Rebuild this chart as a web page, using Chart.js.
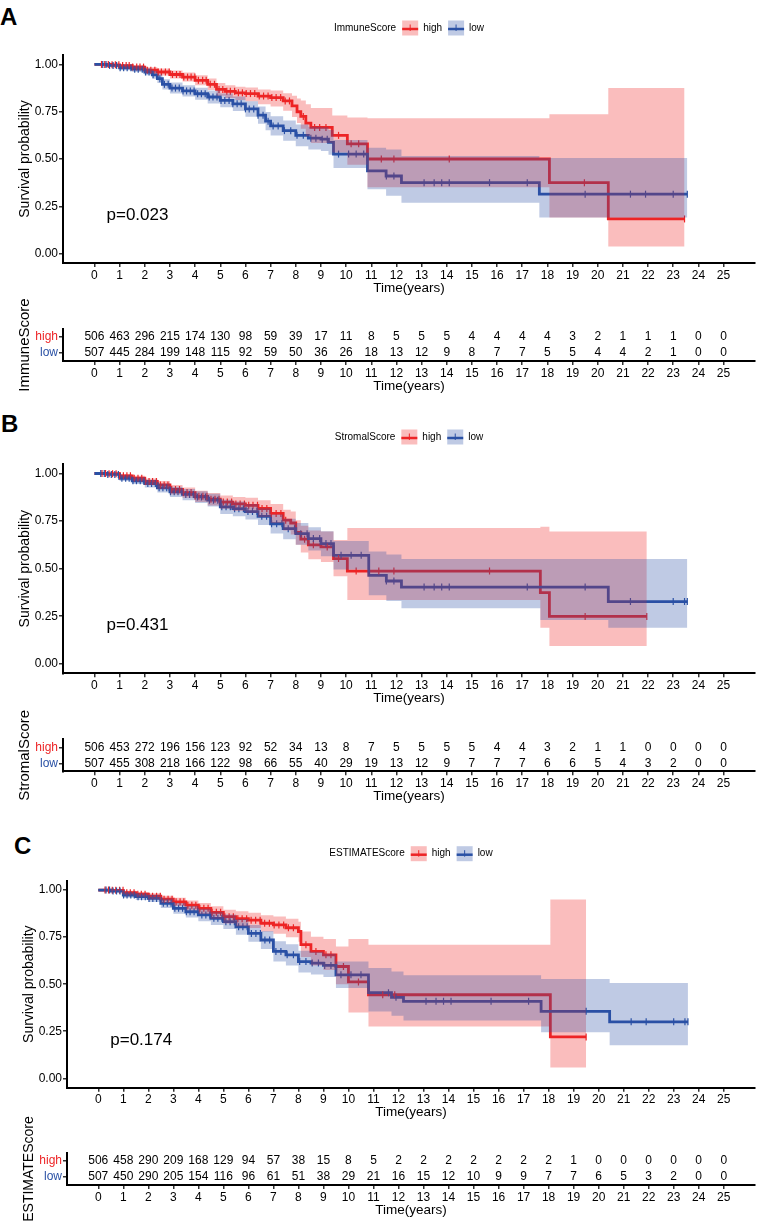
<!DOCTYPE html>
<html>
<head>
<meta charset="utf-8">
<script src="https://cdn.jsdelivr.net/npm/chart.js@4.4.1/dist/chart.umd.min.js"></script>
<style>
  body { margin: 0; background: #fff; }
  #wrap { position: relative; width: 762px; height: 1224px; overflow: hidden; font-family: "Liberation Sans", Arial, sans-serif; }
  canvas { position: absolute; left: 0; }
  .tag { position: absolute; font-weight: bold; font-size: 24px; line-height: 24px; color: #000; }
</style>
</head>
<body>
<div id="wrap">
  <div class="tag" style="left:0;top:5px">A</div>
  <div class="tag" style="left:1px;top:412px">B</div>
  <div class="tag" style="left:14px;top:834px">C</div>
  <canvas id="kmA" width="762" height="300" style="top:0"></canvas>
  <canvas id="rtA" width="762" height="110" style="top:290px"></canvas>
  <canvas id="kmB" width="762" height="310" style="top:400px"></canvas>
  <canvas id="rtB" width="762" height="110" style="top:700px"></canvas>
  <canvas id="kmC" width="762" height="315" style="top:810px"></canvas>
  <canvas id="rtC" width="762" height="129" style="top:1095px"></canvas>
</div>
<script>
const FONT = '"Liberation Sans", Arial, sans-serif';
Chart.defaults.font.family = FONT;
Chart.defaults.color = '#000';

// axes
const xTicks = [0,1,2,3,4,5,6,7,8,9,10,11,12,13,14,15,16,17,18,19,20,21,22,23,24,25];
const yTicks = [0, 0.25, 0.5, 0.75, 1];
const yTickLabels = ['0.00', '0.25', '0.50', '0.75', '1.00'];
const groups = ['high', 'low'];

const RED = 'rgb(237,36,38)', BLUE = 'rgb(42,81,165)';
const RED_FILL = 'rgba(237,36,38,0.3)', BLUE_FILL = 'rgba(42,81,165,0.3)';

// ---- panel A: ImmuneScore
const timeA_high = [0, 0.7, 1.0, 1.5, 2.0, 2.5, 3.0, 3.5, 4.0, 4.5, 4.85, 5.2, 5.6, 6.0, 6.5, 7.0, 7.5, 7.85, 8.05, 8.2, 8.4, 8.6, 9.45, 10.05, 10.85, 18.08, 20.42, 23.45];
const survA_high = [1.0, 0.998, 0.994, 0.986, 0.97, 0.96, 0.947, 0.933, 0.916, 0.895, 0.868, 0.858, 0.85, 0.846, 0.833, 0.825, 0.807, 0.781, 0.75, 0.725, 0.69, 0.667, 0.625, 0.58, 0.5, 0.375, 0.183, 0.183];
const loA_high = [1.0, 0.992, 0.985, 0.975, 0.955, 0.942, 0.926, 0.91, 0.89, 0.865, 0.835, 0.823, 0.812, 0.806, 0.79, 0.778, 0.755, 0.722, 0.69, 0.66, 0.62, 0.585, 0.535, 0.47, 0.35, 0.19, 0.037, 0.037];
const upA_high = [1.0, 1.0, 1.0, 0.997, 0.985, 0.978, 0.968, 0.957, 0.943, 0.926, 0.902, 0.89, 0.882, 0.878, 0.868, 0.862, 0.848, 0.835, 0.82, 0.81, 0.79, 0.77, 0.73, 0.72, 0.716, 0.737, 0.875, 0.875];
const censA_high = [0.28,0.41,0.55,0.7,0.83,0.97,1.12,1.26,1.38,1.52,1.68,1.81,1.95,2.1,2.24,2.4,2.53,2.66,2.82,2.97,3.1,3.26,3.4,3.55,3.7,3.84,3.99,4.13,4.3,4.44,4.6,4.77,4.95,5.1,5.26,5.4,5.57,5.72,5.88,6.03,6.2,6.37,6.55,6.72,6.9,7.05,7.22,7.4,7.58,7.75,8.3,8.75,8.95,9.2,9.7,10.2,10.5,11.4,11.9,14.1,19.47,23.45];

const timeA_low = [0, 0.5, 1.0, 1.5, 2.0, 2.3, 2.5, 2.7, 3.0, 3.5, 4.0, 4.5, 5.0, 5.5, 6.0, 6.5, 6.8, 7.0, 7.5, 8.0, 8.5, 9.0, 9.3, 9.5, 10.85, 11.59, 12.2, 17.68, 23.56];
const survA_low = [1.0, 0.995, 0.982, 0.975, 0.96, 0.945, 0.925, 0.895, 0.875, 0.86, 0.845, 0.828, 0.81, 0.792, 0.765, 0.732, 0.7, 0.675, 0.65, 0.625, 0.61, 0.605, 0.588, 0.526, 0.437, 0.41, 0.375, 0.314, 0.314];
const loA_low = [1.0, 0.988, 0.97, 0.96, 0.943, 0.925, 0.902, 0.868, 0.846, 0.83, 0.813, 0.794, 0.774, 0.754, 0.724, 0.687, 0.652, 0.624, 0.596, 0.568, 0.55, 0.542, 0.522, 0.452, 0.34, 0.305, 0.268, 0.19, 0.19];
const upA_low = [1.0, 1.0, 0.994, 0.99, 0.977, 0.965, 0.948, 0.922, 0.904, 0.89, 0.877, 0.862, 0.846, 0.83, 0.806, 0.777, 0.748, 0.726, 0.704, 0.682, 0.67, 0.668, 0.654, 0.6, 0.56, 0.55, 0.516, 0.505, 0.505];
const censA_low = [0.33,0.46,0.6,0.74,0.88,1.02,1.16,1.3,1.45,1.6,1.74,1.9,2.03,2.17,2.33,2.6,2.78,2.93,3.08,3.22,3.37,3.52,3.66,3.81,3.96,4.1,4.25,4.4,4.56,4.71,4.87,5.03,5.18,5.35,5.5,5.67,5.83,6.0,6.15,6.33,6.5,6.7,6.9,7.1,7.3,7.55,7.8,8.05,8.3,8.6,8.8,9.05,9.25,9.7,10.1,10.4,10.7,11.6,11.9,13.1,13.5,13.8,14.1,15.7,17.2,19.5,21.3,21.9,23.0,23.56];

const riskA_high = [506,463,296,215,174,130,98,59,39,17,11,8,5,5,5,4,4,4,4,3,2,1,1,1,0,0];
const riskA_low = [507,445,284,199,148,115,92,59,50,36,26,18,13,12,9,8,7,7,5,5,4,4,2,1,0,0];

// ---- panel B: StromalScore
const timeB_high = [0, 0.5, 1.0, 1.5, 2.0, 2.5, 3.0, 3.5, 4.0, 4.5, 5.0, 5.5, 6.0, 6.5, 7.0, 7.5, 7.8, 8.0, 8.2, 8.5, 9.0, 9.5, 10.05, 17.72, 18.08, 21.95];
const survB_high = [1.0, 0.999, 0.988, 0.975, 0.958, 0.94, 0.916, 0.9, 0.88, 0.865, 0.85, 0.84, 0.833, 0.816, 0.79, 0.755, 0.74, 0.69, 0.655, 0.625, 0.614, 0.553, 0.487, 0.374, 0.249, 0.249];
const loB_high = [1.0, 0.995, 0.978, 0.962, 0.94, 0.918, 0.89, 0.872, 0.85, 0.832, 0.815, 0.803, 0.793, 0.772, 0.74, 0.7, 0.68, 0.625, 0.585, 0.55, 0.535, 0.46, 0.335, 0.19, 0.094, 0.094];
const upB_high = [1.0, 1.0, 0.997, 0.988, 0.974, 0.96, 0.94, 0.927, 0.91, 0.897, 0.885, 0.877, 0.873, 0.86, 0.84, 0.81, 0.8, 0.755, 0.725, 0.7, 0.695, 0.65, 0.713, 0.72, 0.695, 0.695];
const censB_high = [0.3,0.44,0.58,0.72,0.86,1.0,1.15,1.29,1.43,1.58,1.73,1.88,2.02,2.17,2.31,2.46,2.62,2.77,2.92,3.07,3.22,3.38,3.53,3.68,3.84,4.0,4.15,4.31,4.47,4.63,4.79,4.95,5.12,5.28,5.45,5.62,5.79,5.96,6.13,6.3,6.48,6.66,6.85,7.03,7.22,7.41,7.6,8.35,8.7,9.25,9.7,10.4,11.3,11.9,15.7,19.5,21.95];

const timeB_low = [0, 0.5, 1.0, 1.5, 2.0, 2.5, 3.0, 3.5, 4.0, 4.5, 5.0, 5.5, 6.0, 6.5, 7.0, 7.5, 8.0, 8.5, 9.0, 9.5, 10.9, 11.6, 12.2, 17.72, 20.42, 23.56];
const survB_low = [1.0, 0.995, 0.975, 0.962, 0.947, 0.925, 0.904, 0.89, 0.877, 0.86, 0.825, 0.815, 0.8, 0.775, 0.736, 0.71, 0.684, 0.658, 0.632, 0.57, 0.465, 0.435, 0.403, 0.403, 0.327, 0.327];
const loB_low = [1.0, 0.988, 0.96, 0.945, 0.927, 0.9, 0.876, 0.86, 0.845, 0.826, 0.787, 0.776, 0.758, 0.73, 0.685, 0.655, 0.625, 0.595, 0.565, 0.495, 0.36, 0.33, 0.292, 0.23, 0.19, 0.19];
const upB_low = [1.0, 1.0, 0.99, 0.979, 0.967, 0.948, 0.93, 0.918, 0.907, 0.893, 0.862, 0.853, 0.84, 0.818, 0.785, 0.762, 0.74, 0.718, 0.696, 0.645, 0.59, 0.574, 0.551, 0.551, 0.551, 0.551];
const censB_low = [0.25,0.39,0.53,0.67,0.81,0.95,1.09,1.24,1.38,1.53,1.67,1.82,1.97,2.12,2.27,2.42,2.57,2.72,2.87,3.02,3.17,3.32,3.47,3.63,3.78,3.93,4.09,4.25,4.41,4.57,4.73,4.9,5.06,5.23,5.4,5.57,5.74,5.92,6.1,6.28,6.46,6.65,6.84,7.04,7.24,7.45,7.7,7.95,8.2,8.45,8.7,8.95,9.2,9.4,9.8,10.2,10.6,11.6,11.9,13.1,13.5,13.8,14.1,17.2,19.5,21.3,23.0,23.45,23.56];

const riskB_high = [506,453,272,196,156,123,92,52,34,13,8,7,5,5,5,5,4,4,3,2,1,1,0,0,0,0];
const riskB_low = [507,455,308,218,166,122,98,66,55,40,29,19,13,12,9,7,7,7,6,6,5,4,3,2,0,0];

// ---- panel C: ESTIMATEScore
const timeC_high = [0, 0.5, 1.0, 1.5, 2.0, 2.5, 3.0, 3.5, 4.0, 4.5, 5.0, 5.5, 6.0, 6.5, 7.0, 7.5, 8.0, 8.1, 8.5, 9.0, 9.5, 10.0, 10.8, 18.07, 19.5];
const survC_high = [1.0, 0.999, 0.986, 0.978, 0.968, 0.952, 0.938, 0.92, 0.903, 0.882, 0.859, 0.848, 0.84, 0.824, 0.815, 0.8, 0.78, 0.71, 0.674, 0.656, 0.594, 0.512, 0.444, 0.22, 0.22];
const loC_high = [1.0, 0.995, 0.976, 0.965, 0.952, 0.932, 0.915, 0.893, 0.873, 0.848, 0.822, 0.808, 0.799, 0.78, 0.768, 0.75, 0.725, 0.645, 0.6, 0.575, 0.5, 0.35, 0.275, 0.058, 0.058];
const upC_high = [1.0, 1.0, 0.996, 0.99, 0.983, 0.97, 0.96, 0.945, 0.932, 0.914, 0.895, 0.887, 0.88, 0.867, 0.86, 0.848, 0.832, 0.78, 0.752, 0.74, 0.7, 0.74, 0.709, 0.95, 0.95];
const censC_high = [0.27,0.41,0.56,0.7,0.85,0.99,1.14,1.28,1.43,1.58,1.72,1.87,2.02,2.17,2.33,2.48,2.63,2.79,2.95,3.11,3.27,3.42,3.58,3.74,3.9,4.06,4.22,4.39,4.55,4.72,4.89,5.06,5.23,5.4,5.58,5.75,5.93,6.11,6.29,6.47,6.65,6.84,7.03,7.22,7.41,7.6,7.8,8.3,8.7,9.1,9.3,9.8,10.4,11.37,11.85,19.5];

const timeC_low = [0, 0.5, 1.0, 1.5, 2.0, 2.5, 3.0, 3.5, 4.0, 4.5, 5.0, 5.5, 6.0, 6.5, 7.0, 7.5, 8.0, 8.5, 9.0, 9.5, 10.8, 11.72, 12.2, 17.7, 20.44, 23.57];
const survC_low = [1.0, 0.995, 0.974, 0.965, 0.956, 0.93, 0.903, 0.885, 0.868, 0.85, 0.832, 0.805, 0.77, 0.735, 0.674, 0.656, 0.62, 0.612, 0.6, 0.55, 0.455, 0.43, 0.409, 0.356, 0.3, 0.3];
const loC_low = [1.0, 0.988, 0.96, 0.948, 0.937, 0.905, 0.875, 0.855, 0.835, 0.815, 0.793, 0.763, 0.725, 0.687, 0.62, 0.6, 0.562, 0.552, 0.538, 0.48, 0.355, 0.333, 0.307, 0.245, 0.176, 0.176];
const upC_low = [1.0, 1.0, 0.988, 0.982, 0.975, 0.955, 0.931, 0.915, 0.901, 0.885, 0.871, 0.847, 0.815, 0.783, 0.728, 0.712, 0.678, 0.672, 0.662, 0.62, 0.586, 0.568, 0.547, 0.527, 0.506, 0.506];
const censC_low = [0.31,0.45,0.59,0.73,0.87,1.01,1.15,1.3,1.44,1.59,1.73,1.88,2.03,2.18,2.33,2.6,2.76,2.91,3.06,3.21,3.37,3.52,3.67,3.83,3.98,4.14,4.3,4.46,4.62,4.78,4.94,5.1,5.27,5.44,5.61,5.78,5.95,6.12,6.3,6.48,6.66,6.85,7.1,7.3,7.55,7.8,8.05,8.3,8.55,8.8,9.05,9.3,9.7,10.1,10.5,11.6,11.9,13.1,13.5,13.8,14.1,15.7,17.2,19.5,21.3,21.9,23.0,23.45,23.57];

const riskC_high = [506,458,290,209,168,129,94,57,38,15,8,5,2,2,2,2,2,2,2,1,0,0,0,0,0,0];
const riskC_low = [507,450,290,205,154,116,96,61,51,38,29,21,16,15,12,10,9,9,7,7,6,5,3,2,0,0];

function pts(xs, ys) { return xs.map((x, i) => ({ x: x, y: ys[i] })); }

// value of a step curve at time t (value holds until the next time)
function survAt(times, surv, t) {
  let v = surv[0];
  for (let i = 0; i < times.length; i++) if (times[i] <= t) v = surv[i];
  return v;
}

const tickGrid = { drawOnChartArea: false, drawTicks: true, tickLength: 4, color: '#333', lineWidth: 1.5 };
const axisBorder = { display: true, color: '#000', width: 2 };

function xScale(height, titlePad) {
  return {
    type: 'linear', min: -1.25, max: 26.25,
    afterBuildTicks: s => { s.ticks = xTicks.map(v => ({ value: v })); },
    ticks: { callback: v => String(v), font: { size: 12 }, color: '#000', padding: 1, autoSkip: false, maxRotation: 0 },
    grid: tickGrid,
    border: axisBorder,
    title: { display: true, text: 'Time(years)', font: { size: 13.5 }, color: '#000', padding: { top: 0, bottom: titlePad } },
    afterFit: s => { s.height = height; }
  };
}

const kmDecor = {
  id: 'kmDecor',
  afterDraw(chart, args, o) {
    const { ctx, chartArea: a, scales } = chart;
    ctx.save();
    ctx.fillStyle = '#000';
    ctx.textBaseline = 'middle';
    ctx.textAlign = 'left';
    ctx.font = '17px ' + FONT;
    ctx.fillText(o.pval, scales.x.getPixelForValue(0.48), scales.y.getPixelForValue(0.2));

    // legend: title, then a key per group
    ctx.font = '10px ' + FONT;
    const items = [
      { label: groups[0], col: RED, fill: RED_FILL },
      { label: groups[1], col: BLUE, fill: BLUE_FILL }
    ];
    const tw = ctx.measureText(o.title).width;
    let total = tw;
    items.forEach(it => { total += 6 + 16 + 5 + ctx.measureText(it.label).width; });
    let x = (a.left + a.right) / 2 - total / 2;
    const cy = a.top - 27;
    ctx.fillText(o.title, x, cy);
    x += tw;
    items.forEach(it => {
      x += 6;
      ctx.fillStyle = it.fill;
      ctx.fillRect(x, cy - 7.5, 16, 15);
      ctx.strokeStyle = it.col;
      ctx.lineWidth = 2.5;
      ctx.beginPath(); ctx.moveTo(x, cy + 1); ctx.lineTo(x + 16, cy + 1); ctx.stroke();
      ctx.lineWidth = 1;
      ctx.beginPath(); ctx.moveTo(x + 8, cy - 3.5); ctx.lineTo(x + 8, cy + 3); ctx.stroke();
      x += 16 + 5;
      ctx.fillStyle = '#000';
      ctx.fillText(it.label, x, cy);
      x += ctx.measureText(it.label).width;
    });
    ctx.restore();
  }
};

function groupSets(g, col, fill, base) {
  return [
    { type: 'line', data: pts(g.time, g.surv), borderColor: col, borderWidth: 2.8, stepped: 'before',
      pointRadius: 0, fill: false, order: base + 4 },
    { type: 'scatter', data: g.cens.map(t => ({ x: t, y: survAt(g.time, g.surv, t) })), showLine: false,
      pointStyle: 'line', pointRotation: 90, pointRadius: 3.5, pointBorderColor: col, borderColor: col,
      pointBorderWidth: 1.2, order: base + 2 },
    { type: 'line', data: pts(g.time, g.up), stepped: 'before', borderWidth: 0, borderColor: 'rgba(0,0,0,0)',
      pointRadius: 0, backgroundColor: fill, fill: '+1', order: base },
    { type: 'line', data: pts(g.time, g.lo), stepped: 'before', borderWidth: 0, borderColor: 'rgba(0,0,0,0)',
      pointRadius: 0, fill: false, order: base }
  ];
}

function kmChart(id, c) {
  new Chart(document.getElementById(id), {
    type: 'line',
    data: { datasets: [...groupSets(c.high, RED, RED_FILL, 2), ...groupSets(c.low, BLUE, BLUE_FILL, 1)] },
    options: {
      responsive: false, animation: false, events: [],
      layout: { padding: { top: c.padTop, right: 7, left: 0, bottom: 0 } },
      plugins: { legend: { display: false }, tooltip: { enabled: false }, kmDecor: { pval: c.pval, title: c.title } },
      scales: {
        x: xScale(c.xH, c.xTitlePad),
        y: {
          type: 'linear', min: -0.05, max: 1.05,
          afterBuildTicks: s => { s.ticks = yTicks.map(v => ({ value: v })); },
          ticks: { callback: (v, i) => yTickLabels[i], font: { size: 12 }, color: '#000', padding: 1 },
          grid: tickGrid,
          border: axisBorder,
          title: { display: true, text: 'Survival probability', font: { size: 14 }, color: '#000', padding: { top: c.yTitlePad, bottom: 0 } },
          afterFit: s => { s.width = c.yW; }
        }
      }
    },
    plugins: [kmDecor]
  });
}

const riskText = {
  id: 'riskText',
  afterDatasetsDraw(chart) {
    const ctx = chart.ctx;
    ctx.save();
    ctx.font = '12px ' + FONT;
    ctx.fillStyle = '#000';
    ctx.textAlign = 'center';
    ctx.textBaseline = 'middle';
    chart.data.datasets.forEach((ds, i) => {
      chart.getDatasetMeta(i).data.forEach((pt, j) => ctx.fillText(String(ds.counts[j]), pt.x, pt.y));
    });
    ctx.restore();
  }
};

function riskChart(id, c) {
  new Chart(document.getElementById(id), {
    type: 'scatter',
    data: {
      datasets: [
        { data: xTicks.map(t => ({ x: t, y: groups[0] })), counts: c.high, pointRadius: 0 },
        { data: xTicks.map(t => ({ x: t, y: groups[1] })), counts: c.low, pointRadius: 0 }
      ]
    },
    options: {
      responsive: false, animation: false, events: [],
      layout: { padding: { top: c.padTop, right: 7, left: 0, bottom: 0 } },
      plugins: { legend: { display: false }, tooltip: { enabled: false } },
      scales: {
        x: xScale(c.xH, 5.9),
        y: {
          type: 'category', labels: groups, offset: true,
          ticks: { font: { size: 12 }, padding: 1, autoSkip: false, color: ctx => ctx.index === 0 ? RED : BLUE },
          grid: tickGrid,
          border: axisBorder,
          title: { display: true, text: c.title, font: { size: c.titleSize }, color: '#000', padding: { top: c.yTitlePad, bottom: 0 } },
          afterFit: s => { s.width = c.yW; }
        }
      }
    },
    plugins: [riskText]
  });
}

kmChart('kmA', {
  title: 'ImmuneScore', pval: 'p=0.023', padTop: 55, xH: 37, xTitlePad: 3.9, yW: 63, yTitlePad: 17.1,
  high: { time: timeA_high, surv: survA_high, lo: loA_high, up: upA_high, cens: censA_high },
  low: { time: timeA_low, surv: survA_low, lo: loA_low, up: upA_low, cens: censA_low }
});
riskChart('rtA', { title: 'ImmuneScore', titleSize: 15, high: riskA_high, low: riskA_low, padTop: 39, xH: 39, yW: 63, yTitlePad: 16 });

kmChart('kmB', {
  title: 'StromalScore', pval: 'p=0.431', padTop: 64, xH: 36.7, xTitlePad: 3.9, yW: 63, yTitlePad: 17.1,
  high: { time: timeB_high, surv: survB_high, lo: loB_high, up: upB_high, cens: censB_high },
  low: { time: timeB_low, surv: survB_low, lo: loB_low, up: upB_low, cens: censB_low }
});
riskChart('rtB', { title: 'StromalScore', titleSize: 15, high: riskB_high, low: riskB_low, padTop: 39.3, xH: 38.7, yW: 63, yTitlePad: 16 });

kmChart('kmC', {
  title: 'ESTIMATEScore', pval: 'p=0.174', padTop: 70.7, xH: 37.3, xTitlePad: 4.2, yW: 67, yTitlePad: 20.6,
  high: { time: timeC_high, surv: survC_high, lo: loC_high, up: upC_high, cens: censC_high },
  low: { time: timeC_low, surv: survC_low, lo: loC_low, up: upC_low, cens: censC_low }
});
riskChart('rtC', { title: 'ESTIMATEScore', titleSize: 14, high: riskC_high, low: riskC_low, padTop: 58, xH: 39, yW: 67, yTitlePad: 20.3 });
</script>
</body>
</html>
